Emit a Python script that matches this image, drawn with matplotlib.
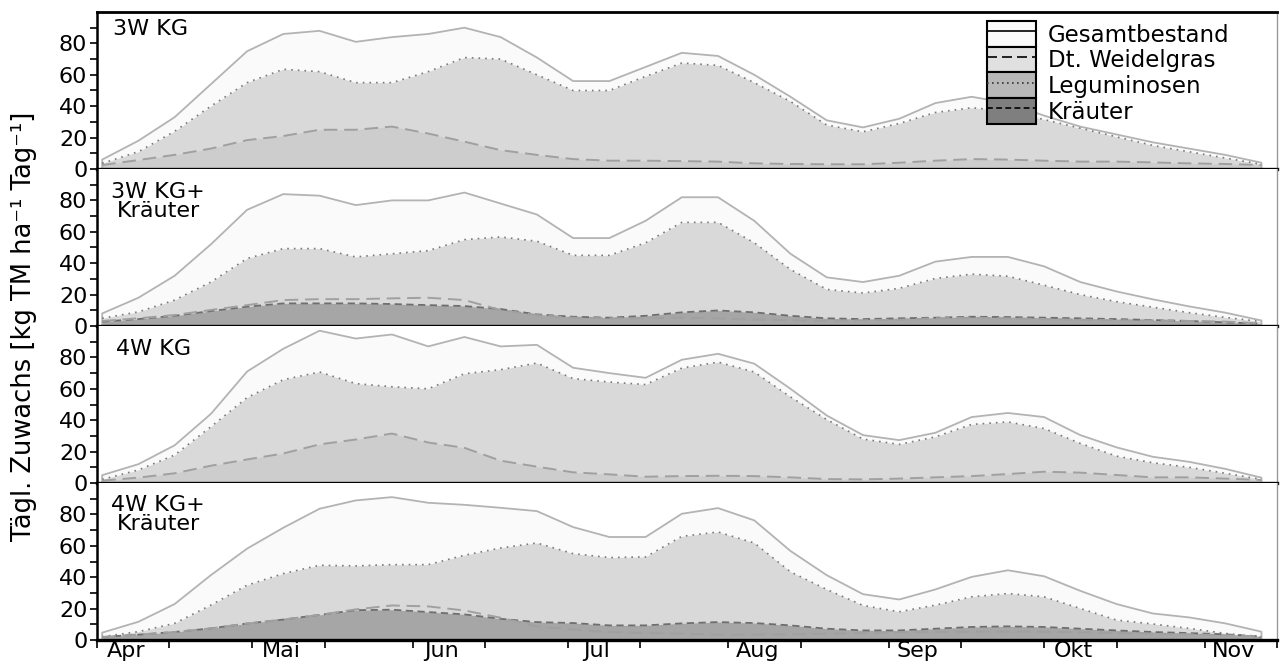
import matplotlib
matplotlib.use('Agg')
import matplotlib.pyplot as plt
from matplotlib.patches import Patch
from matplotlib.lines import Line2D

plt.rcParams['font.family'] = ['DejaVu Sans']

# Tage ab 1. April (woechentliche Schnitte)
tage = [1, 8, 15, 22, 29, 36, 43, 50, 57, 64, 71, 78, 85, 92, 99, 106, 113,
        120, 127, 134, 141, 148, 155, 162, 169, 176, 183, 190, 197, 204, 211, 218, 225]

monate = ['Apr', 'Mai', 'Jun', 'Jul', 'Aug', 'Sep', 'Okt', 'Nov']
monat_start = [0, 30, 61, 91, 122, 153, 183, 214]

titel = ['3W KG', '3W KG+\nKräuter', '4W KG', '4W KG+\nKräuter']

# 3W KG
gesamt_3w = [6, 18, 33, 54, 75, 86, 88, 81, 84, 86, 90, 84, 71, 56, 56, 65, 74,
             72, 60, 46, 31, 26.5, 32, 42, 46, 42, 34, 27, 22, 17, 13, 9, 4]
legum_3w = [3.6, 11, 24, 40, 55, 63.5, 62, 55, 55, 62, 71, 70, 60, 50, 50, 59, 67.5,
            66, 55, 43, 28, 23.7, 29, 36, 39, 37, 31.5, 26, 20.5, 15, 11, 7, 3]
weidel_3w = [2.5, 5.7, 9, 13, 18.4, 21, 25, 25, 27, 22.6, 17.4, 12, 9, 6.3, 5.3, 5.3, 5,
             4.7, 3.6, 3.2, 3, 3, 4, 5.3, 6.3, 6, 5.3, 4.7, 4.7, 4.2, 3.6, 3.2, 2.5]

# 3W KG + Kraeuter
gesamt_3wk = [8, 18, 32, 52, 74, 84, 83, 77, 80, 80, 85, 78, 71, 56, 56, 67, 82,
              82, 67, 46, 31, 28, 32, 41, 44, 44, 38, 28, 22, 17, 12.5, 8.5, 3.5]
legum_3wk = [4.9, 9, 16.5, 28, 43, 49.3, 49.3, 44, 46, 48, 55, 56.7, 54, 45, 45, 53, 66,
             66, 53, 36, 23.3, 21, 24, 30.3, 33, 31.7, 26, 20, 15.5, 12, 8.5, 5.5, 2.8]
weidel_3wk = [3.2, 4.9, 7, 10.2, 13.3, 16.5, 17.1, 17.1, 17.6, 18, 16.5, 10.2, 7, 5.3, 4.9, 4.9, 5.3,
              4.9, 4, 3.6, 3.2, 3.6, 4, 4.9, 5.3, 4.9, 4.4, 4, 3.6, 3.6, 3.2, 2.8, 1.7]
kraut_3wk = [2.8, 4.4, 6.5, 9.5, 12.3, 14.4, 14.4, 14.4, 14, 13.3, 12.7, 10.8, 7.4, 5.9, 5.3, 6.5, 8.7,
             9.9, 8.7, 6.5, 4.9, 4.4, 4.9, 5.3, 5.9, 5.7, 5.3, 4.9, 4.4, 3.8, 3.2, 2.3, 1.5]

# 4W KG
gesamt_4w = [5, 12, 24, 44, 71, 85.5, 97, 92, 94.6, 87, 93, 87, 88, 73.4, 70, 67, 78.5,
             82.3, 76, 60, 43, 30.5, 27.3, 32, 42, 44.6, 42, 30.5, 22.7, 16.7, 13.5, 9, 3.4]
legum_4w = [2.3, 8.3, 17.8, 35.8, 54.4, 65.8, 70.7, 63.3, 61.3, 60, 69.6, 72.2, 76.4, 66.5, 64.3, 62.7, 73.2,
            77, 70.7, 54.8, 40.4, 28, 24.6, 29.4, 37.3, 38.9, 34.7, 25.2, 17.1, 12.9, 10, 6.2, 2.3]
weidel_4w = [1.5, 3.4, 6.2, 11, 15, 18.8, 24.6, 27.7, 31.5, 25.8, 22.4, 14.2, 10.4, 6.8, 5.5, 4, 4.4,
             4.6, 4.4, 3.6, 2.5, 2.3, 2.8, 3.6, 4.4, 5.7, 7.2, 6.6, 5.1, 3.6, 3.6, 2.8, 1.9]

# 4W KG + Kraeuter
gesamt_4wk = [4.7, 11.6, 22.9, 41.3, 58.2, 71.5, 83.6, 88.9, 91, 87.4, 86.1, 84.2, 82.1, 71.9, 65.6, 65.6, 80.4,
              84, 76.2, 56.7, 41.3, 29.2, 25.8, 32.2, 40.2, 44.4, 40.6, 31.3, 22.9, 16.9, 14.4, 10.6, 5.3]
legum_4wk = [2.1, 5.3, 10.6, 22.2, 34.9, 42.3, 47.6, 47.2, 48, 48, 54, 58.6, 61.8, 55, 52.5, 52.9, 66,
             68.8, 61.8, 43.4, 32.2, 22, 18, 22.2, 27.5, 29.6, 27.5, 20.1, 12.7, 10.2, 7.4, 4.2, 1.7]
weidel_4wk = [1.9, 3.4, 5.1, 7.4, 10.5, 13, 16, 19.5, 22, 21.4, 18.8, 14.2, 8.7, 6.6, 5.1, 4.4, 4,
              3.4, 3.4, 3.6, 4, 4.4, 4.9, 5.1, 5.3, 5.3, 5.3, 4.9, 4.4, 4, 3.6, 3, 2.3]
kraut_4wk = [1.9, 3.4, 5.1, 7.4, 10.5, 13, 16, 19, 19.3, 17.8, 16.3, 13.5, 11.4, 10.8, 9.3, 9.3, 10.6,
             11.4, 10.8, 9.3, 7.2, 6.1, 6.1, 7.2, 8.3, 8.7, 8.3, 7.2, 6.1, 5.1, 4.4, 3.6, 2.3]

daten = [
    (gesamt_3w, legum_3w, weidel_3w, None),
    (gesamt_3wk, legum_3wk, weidel_3wk, kraut_3wk),
    (gesamt_4w, legum_4w, weidel_4w, None),
    (gesamt_4wk, legum_4wk, weidel_4wk, kraut_4wk),
]


def panel(ax, gesamt, legum, weidel, kraut):
    ax.fill_between(tage, gesamt, color='#fafafa', lw=0)
    ax.plot([tage[0]] + tage + [tage[-1]], [0] + gesamt + [0], color='#b3b3b3', lw=1.3)
    ax.fill_between(tage, legum, color='#d9d9d9', lw=0)
    ax.plot(tage, legum, color='#7a7a7a', lw=1.2, ls=(0, (1, 3)))
    if kraut is None:
        ax.fill_between(tage, weidel, color='#cdcdcd', lw=0)
    else:
        ax.fill_between(tage, kraut, color='#a6a6a6', lw=0)
        ax.plot(tage, kraut, color='#6e6e6e', lw=1.3, ls=(0, (4, 2.5)))
    ax.plot(tage, weidel, color='#a0a0a0', lw=1.4, ls=(0, (7, 3.5)))


fig, axes = plt.subplots(4, 1, figsize=(12.8, 6.71), dpi=100, sharex=True)
fig.subplots_adjust(left=97/1280, right=1277/1280, top=1-12/671, bottom=31/671, hspace=0)

for i, ax in enumerate(axes):
    panel(ax, *daten[i])
    ax.set_ylim(0, 100)
    ax.set_xlim(0, 227.4)
    ax.set_yticks([0, 20, 40, 60, 80])
    ax.set_yticks([10, 30, 50, 70, 90], minor=True)
    ax.tick_params(axis='y', which='both', direction='out', length=5, width=1.2,
                   labelsize=16, pad=2)
    ax.tick_params(axis='x', which='both', bottom=False, labelbottom=False)
    ax.spines['left'].set_linewidth(1.8)
    ax.spines['bottom'].set_linewidth(2.4)
    ax.spines['right'].set_color('#9a9a9a')
    ax.spines['right'].set_linewidth(1.0)
    if i == 0:
        ax.spines['top'].set_linewidth(2.0)
    else:
        ax.spines['top'].set_visible(False)
    if '\n' in titel[i]:
        ax.text(0.052, 0.92 if i == 1 else 0.925, titel[i], transform=ax.transAxes,
                ha='center', va='top', fontsize=16, linespacing=0.95)
    else:
        ax.text(0.0135 if i == 0 else 0.016, 0.955 if i == 0 else 0.92, titel[i],
                transform=ax.transAxes, ha='left', va='top', fontsize=16)

unten = axes[-1]
unten.set_xticks(monat_start + [m + 14 for m in monat_start])
unten.set_xticks([m + 5.6 for m in monat_start], monate, minor=True)
unten.tick_params(axis='x', which='major', bottom=True, direction='out', length=6,
                  width=1.2, labelbottom=False)
unten.tick_params(axis='x', which='minor', bottom=True, length=0, labelbottom=True,
                  labelsize=16, pad=1)

# Legende
griffe = [
    (Patch(fc='#fafafa', ec='black', lw=1.5), Line2D([], [], color='black', lw=1.2)),
    (Patch(fc='#e0e0e0', ec='black', lw=1.5), Line2D([], [], color='black', lw=1.2, ls=(0, (6, 3)))),
    (Patch(fc='#b8b8b8', ec='black', lw=1.5), Line2D([], [], color='#333333', lw=1.2, ls=(0, (1, 2)))),
    (Patch(fc='#7f7f7f', ec='black', lw=1.5), Line2D([], [], color='black', lw=1.2, ls=(0, (3.5, 2)))),
]
namen = ['Gesamtbestand', 'Dt. Weidelgras', 'Leguminosen', 'Kräuter']
leg = axes[0].legend(griffe, namen, loc='upper left', bbox_to_anchor=(987/1280, 1-21/671),
                     bbox_transform=fig.transFigure, frameon=False, fontsize=16.5,
                     borderpad=0, borderaxespad=0, labelspacing=0, handlelength=2.15,
                     handleheight=1.35, handletextpad=0.5)
leg.set_zorder(10)

fig.text(0.019, 0.514, 'Tägl. Zuwachs [kg TM ha⁻¹ Tag⁻¹]', rotation=90,
         va='center', ha='center', fontsize=18.5)

fig.savefig('out.png', dpi=100)
